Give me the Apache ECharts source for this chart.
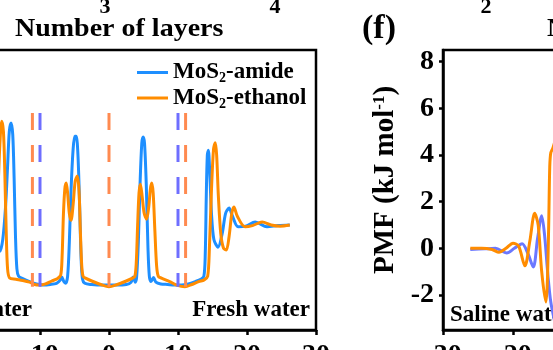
<!DOCTYPE html>
<html><head><meta charset="utf-8">
<script src="https://cdn.jsdelivr.net/npm/echarts@6/dist/echarts.min.js"></script>
<style>html,body{margin:0;padding:0;background:#fff}#c{width:553px;height:350px}</style>
</head><body><div id="c"></div>
<script>
// ---- data (left panel: density profiles along z) ----
const zTicks = [-30, -20, -10, 0, 10, 20, 30];
const amideZ = [-26.2,-24.5,-22.9,-21.2,-19.8,-18.7,-17.9,-17.4,-16.9,-16.3,-15.8,-15.4,-15.0,-14.7,-14.45,-14.2,-13.95,-13.75,-13.55,-13.35,-13.1,-12.5,-11.5,-10.5,-9.5,-8.5,-7.6,-7.1,-6.85,-6.55,-6.3,-6.0,-5.75,-5.5,-5.2,-4.95,-4.75,-4.5,-4.25,-4.05,-3.85,-3.5,-2.5,-1,0,1,2.5,3.2,3.5,3.8,4.0,4.25,4.5,4.75,4.95,5.15,5.4,5.65,5.85,6.1,6.45,6.8,7.5,8.5,9.5,10.5,11.5,12.5,13.3,13.75,13.95,14.1,14.25,14.4,14.6,14.85,15.2,15.8,16.4,16.9,17.4,17.9,18.7,19.8,21.2,22.9,24.5,26.2];
const amideDensity = [1.0,0.99,0.97,1.05,0.98,0.97,1.15,1.29,1.2,0.8,0.55,0.75,1.3,2.0,2.6,2.75,2.55,1.8,0.8,0.25,0.12,0.08,0.03,-0.01,-0.03,-0.02,0.0,0.05,0.11,0.03,0.0,0.12,0.7,1.6,2.3,2.52,2.52,2.2,1.3,0.45,0.08,0.0,-0.02,-0.03,-0.03,-0.03,-0.02,0.02,0.11,0.02,0.1,0.7,1.7,2.4,2.51,2.4,1.7,0.6,0.12,0.03,0.1,0.02,-0.01,-0.02,-0.03,-0.03,-0.01,0.03,0.07,0.12,0.5,1.5,2.2,2.28,1.9,1.2,0.75,0.62,0.85,1.2,1.29,1.15,0.97,0.98,1.05,0.97,0.99,1.0];
const ethanolZ = [-26.2,-24.5,-22.2,-20.8,-19.7,-18.9,-18.1,-17.6,-17.0,-16.6,-16.2,-15.85,-15.55,-15.3,-15.1,-14.9,-14.7,-14.4,-13.5,-12.5,-11.5,-10.8,-10,-9.2,-8.3,-7.5,-7.0,-6.8,-6.6,-6.4,-6.2,-6.0,-5.75,-5.5,-5.2,-4.9,-4.6,-4.35,-4.15,-3.95,-3.75,-3.4,-2.5,-1.2,0,1.2,2.5,3.4,3.75,3.95,4.15,4.35,4.55,4.8,5.1,5.45,5.75,6.0,6.2,6.4,6.65,6.9,7.15,7.6,8.8,9.8,11,12.0,13.0,13.8,14.3,14.55,14.85,15.15,15.4,15.6,15.85,16.2,16.6,17.0,17.4,17.8,18.1,18.6,19.7,20.8,22.2,23.5,24.8,26.2];
const ethanolDensity = [1.0,0.99,1.05,0.99,0.97,1.12,1.31,1.1,0.57,0.75,1.3,2.3,2.78,2.6,1.9,0.9,0.25,0.09,0.07,0.05,0.02,-0.02,-0.03,-0.01,0.04,0.08,0.14,0.45,1.2,1.62,1.72,1.55,1.2,1.08,1.35,1.75,1.84,1.6,0.9,0.3,0.12,0.09,0.04,-0.02,-0.06,-0.02,0.04,0.09,0.12,0.35,1.0,1.55,1.70,1.5,1.2,1.1,1.3,1.62,1.72,1.55,0.9,0.3,0.12,0.09,0.03,-0.03,-0.06,-0.02,0.03,0.06,0.12,0.6,1.6,2.3,2.41,2.2,1.5,0.85,0.6,0.57,0.8,1.2,1.31,1.15,0.97,0.99,1.05,1.0,0.98,1.0];
const ethanolLayerZ = [-11.1, 0, 11.1];
const amideLayerZ = [-10, 10];
const layerSpan = [2.92, -0.06];

// ---- data (right panel (f): PMF) ----
const pmfTicks = [-2, 0, 2, 4, 6, 8];
const pmfAmideZ = [-26.1,-24,-22.5,-20.9,-19.8,-18.7,-17.9,-17.1,-16.5,-15.9,-15.5,-15.0,-14.6,-14.0];
const pmfAmide = [-0.05,-0.02,0.0,-0.2,0.0,0.2,-0.2,-0.8,0.4,1.4,0.6,-1.2,-2.3,-3.2];
const pmfEthanolZ = [-26.1,-24.5,-23.0,-22.0,-21.0,-20.0,-19.2,-18.3,-17.6,-16.9,-16.4,-15.9,-15.3,-15.1,-14.9,-14.75,-14.6,-14.3,-14.0];
const pmfEthanol = [0.0,0.0,-0.05,-0.17,0.0,0.22,0.1,-0.75,0.3,1.5,1.0,-1.0,-2.3,-1.5,1.0,3.5,4.1,4.3,4.6];

// ---- texts ----
const seriesNames = ['MoS2-amide', 'MoS2-ethanol'];
const topLayerTicks = ['3', '4', '2'];
const topAxisTitle = 'Number of layers';
const panelLabel = '(f)';
const sideLabels = ['Saline water', 'Fresh water'];
const pmfName = 'PMF (kJ mol{sup|-1})';

const zip = (a, b) => a.map((v, i) => [v, b[i]]);
const serif = '"Liberation Serif", "Times New Roman", serif';
const BLUE = '#1e8fff', ORANGE = '#ff8c00', PMFBLUE = '#6b78ff';
const DASHO = '#ff8a50', DASHB = '#6e6eff';

const axisCommon = {
  axisLine: {show: true, onZero: false, lineStyle: {color: '#000', width: 2.5}},
  axisTick: {show: true, inside: false, length: 5, lineStyle: {color: '#000', width: 2.5}},
  splitLine: {show: false},
  axisLabel: {color: '#000', fontFamily: serif, fontWeight: 'bold', fontSize: 28}
};

const dashSeries = [];
ethanolLayerZ.forEach(z => dashSeries.push({type: 'line', xAxisIndex: 0, yAxisIndex: 0, silent: true, symbol: 'none', z: 5,
  data: [[z, layerSpan[0]], [z, layerSpan[1]]], lineStyle: {color: DASHO, width: 3, type: [17, 15]}}));
amideLayerZ.forEach(z => dashSeries.push({type: 'line', xAxisIndex: 0, yAxisIndex: 0, silent: true, symbol: 'none', z: 5,
  data: [[z, layerSpan[0]], [z, layerSpan[1]]], lineStyle: {color: DASHB, width: 3, type: [17, 15]}}));

const txt = (text, x, y, size, align, extra) => Object.assign({
  type: 'text', x: x, y: y, silent: true,
  style: {text: text, x: 0, y: 0, fill: '#000', font: 'bold ' + size + 'px ' + serif, align: align, verticalAlign: 'middle'}
}, extra || {});

const chart = echarts.init(document.getElementById('c'), null, {renderer: 'canvas'});
chart.setOption({
  animation: false,
  backgroundColor: '#fff',
  grid: [
    {left: -98, top: 50, width: 414, height: 280, outerBoundsMode: 'none', containLabel: false, show: true, borderColor: '#000', borderWidth: 2.5, backgroundColor: 'transparent'},
    {left: 443, top: 50, width: 420, height: 280, outerBoundsMode: 'none', containLabel: false, show: true, borderColor: '#000', borderWidth: 2.5, backgroundColor: 'transparent'}
  ],
  xAxis: [
    Object.assign({}, axisCommon, {type: 'value', gridIndex: 0, min: zTicks[0], max: zTicks[zTicks.length - 1], interval: 10,
      axisLabel: Object.assign({}, axisCommon.axisLabel, {margin: 12})}),
    Object.assign({}, axisCommon, {type: 'value', gridIndex: 1, min: zTicks[0], max: zTicks[zTicks.length - 1], interval: 10,
      axisLabel: Object.assign({}, axisCommon.axisLabel, {margin: 12})})
  ],
  yAxis: [
    {type: 'value', gridIndex: 0, min: -0.8, max: 4.0, show: false},
    Object.assign({}, axisCommon, {type: 'value', gridIndex: 1, min: -3.5, max: 8.5,
      axisTick: Object.assign({}, axisCommon.axisTick, {length: 4, customValues: pmfTicks}),
      axisLabel: Object.assign({}, axisCommon.axisLabel, {margin: 9, customValues: pmfTicks}),
      name: pmfName, nameLocation: 'middle', nameGap: 40, nameRotate: 90,
      nameTextStyle: {color: '#000', fontFamily: serif, fontWeight: 'bold', fontSize: 29, padding: [0, 0, 0, 20],
        rich: {sup: {fontFamily: serif, fontWeight: 'bold', fontSize: 17, verticalAlign: 'top', padding: [0, 0, 12, 0]}}}
    })
  ],
  legend: {
    data: seriesNames.map(n => ({name: n, icon: 'rect'})), orient: 'vertical', left: 137, top: 60, padding: 0,
    itemWidth: 31, itemHeight: 3, itemGap: 0,
    formatter: n => n.replace('MoS2', 'MoS{sub|2}'),
    textStyle: {color: '#000', fontFamily: serif, fontWeight: 'bold', fontSize: 23, lineHeight: 25,
      rich: {sub: {color: '#000', fontFamily: serif, fontWeight: 'bold', fontSize: 14, padding: [12, 0, 0, 0]}}}
  },
  series: [
    {name: seriesNames[0], type: 'line', xAxisIndex: 0, yAxisIndex: 0, symbol: 'none', smooth: 0.3, z: 3,
      data: zip(amideZ, amideDensity), lineStyle: {color: BLUE, width: 3}, itemStyle: {color: BLUE}},
    {name: seriesNames[1], type: 'line', xAxisIndex: 0, yAxisIndex: 0, symbol: 'none', smooth: 0.3, z: 4,
      data: zip(ethanolZ, ethanolDensity), lineStyle: {color: ORANGE, width: 3}, itemStyle: {color: ORANGE}},
    {name: 'PMF amide', type: 'line', xAxisIndex: 1, yAxisIndex: 1, symbol: 'none', smooth: 0.3, z: 3,
      data: zip(pmfAmideZ, pmfAmide), lineStyle: {color: PMFBLUE, width: 3}},
    {name: 'PMF ethanol', type: 'line', xAxisIndex: 1, yAxisIndex: 1, symbol: 'none', smooth: 0.3, z: 4,
      data: zip(pmfEthanolZ, pmfEthanol), lineStyle: {color: ORANGE, width: 3}}
  ].concat(dashSeries),
  graphic: [
    txt(topLayerTicks[0], 105, 7, 22, 'center'),
    txt(topLayerTicks[1], 275, 7, 22, 'center'),
    txt(topLayerTicks[2], 486, 7, 22, 'center'),
    txt(topAxisTitle, 15, 30, 25, 'left', {scaleX: 1.12}),
    txt(topAxisTitle, 547, 30, 25, 'left', {scaleX: 1.12}),
    txt(panelLabel, 379, 29, 34, 'center'),
    txt(sideLabels[0], 32, 310, 23, 'right'),
    txt(sideLabels[1], 310, 310, 23, 'right'),
    txt(sideLabels[0], 450, 315, 23, 'left')
  ]
});
</script></body></html>
